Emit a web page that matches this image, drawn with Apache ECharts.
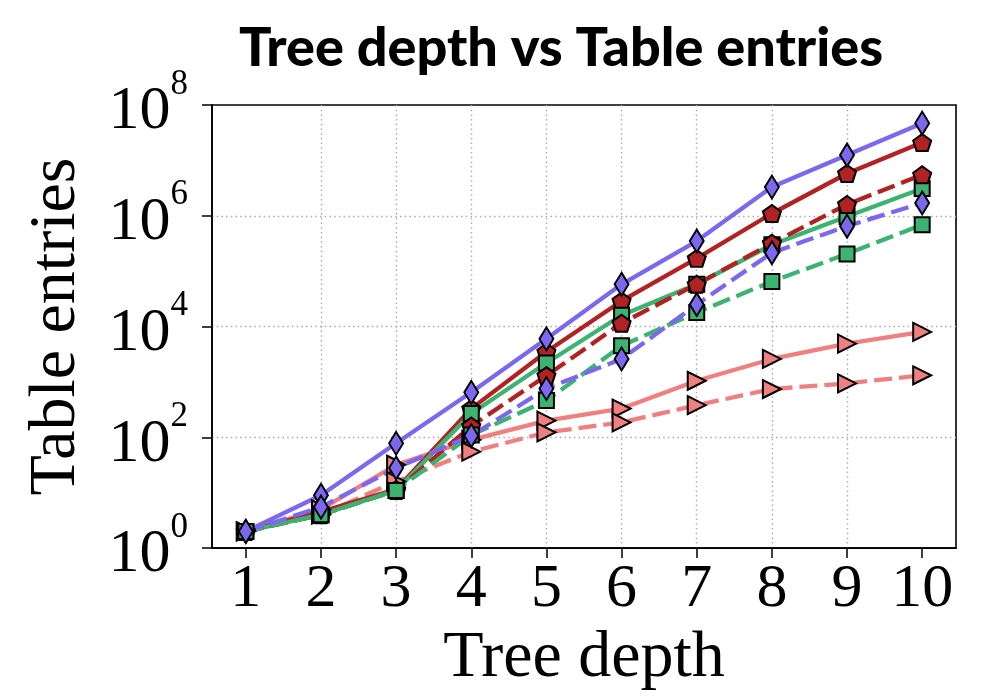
<!DOCTYPE html>
<html>
<head>
<meta charset="utf-8">
<script src="https://cdn.jsdelivr.net/npm/echarts@6/dist/echarts.min.js"></script>
<style>
html,body{margin:0;padding:0;background:#fff;}
#chart{width:982px;height:697px;}
</style>
</head>
<body>
<div id="chart"></div>
<script>
// ---- data ----
const depths = [1, 2, 3, 4, 5, 6, 7, 8, 9, 10];
const yTicks = [1, 100, 10000, 1000000, 100000000];
const purpleSolid  = [2, 9, 78, 650, 6000, 58000, 350000, 3300000, 12500000, 47000000];
const redSolid     = [2, 4.5, 11.5, 330, 3500, 29000, 170000, 1100000, 5800000, 21000000];
const greenSolid   = [2, 4, 11, 270, 2200, 16000, 58000, 300000, 970000, 3100000];
const redDashed    = [2, 4, 11, 160, 1300, 11500, 58000, 320000, 1600000, 5500000];
const greenDashed  = [2, 4, 11, 110, 460, 4500, 18000, 65000, 205000, 690000];
const purpleDashed = [2, 5.5, 28, 107, 760, 2600, 25000, 215000, 650000, 1700000];
const coralSolid   = [2, 5, 32, 90, 200, 330, 1050, 2600, 4900, 8000];
const coralDashed  = [2, 4, 16, 55, 123, 186, 380, 745, 940, 1320];

// ---- styles ----
const PURPLE = '#7B68EE', RED = '#B22222', GREEN = '#3CB371', CORAL = '#F08080';
const DASH = [18, 7];
const LW = 4.3;
const pentagon = 'path://M0,-1 L0.951,-0.309 L0.588,0.809 L-0.588,0.809 L-0.951,-0.309 Z';
const markers = {
  diamond: {symbol: 'diamond', symbolSize: [14, 23], symbolRotate: 0},
  pentagon: {symbol: pentagon, symbolSize: [18, 17], symbolRotate: 0},
  square: {symbol: 'rect', symbolSize: [15, 15], symbolRotate: 0},
  tri: {symbol: 'triangle', symbolSize: [18, 18], symbolRotate: -90}
};
function mk(values, color, dashed, mark) {
  const m = markers[mark];
  return {
    type: 'line',
    data: depths.map((d, i) => [d, values[i]]),
    symbol: m.symbol, symbolSize: m.symbolSize, symbolRotate: m.symbolRotate,
    showSymbol: true,
    lineStyle: {color: color, width: LW, type: dashed ? DASH : 'solid'},
    itemStyle: {color: color, borderColor: '#000', borderWidth: 2},
    emphasis: {disabled: true}
  };
}

const serif = 'Liberation Serif';
const titleText = 'Tree depth vs Table entries';
const cv = document.createElement('canvas').getContext('2d');
cv.font = '900 100px Lato';
const titleSize = Math.round(100 * 648 / cv.measureText(titleText).width);

const gridLine = {show: true, showMinLine: false, showMaxLine: false,
  lineStyle: {color: '#aaaaaa', width: 1.4, type: [1.5, 3.2]}};

const chart = echarts.init(document.getElementById('chart'), null, {renderer: 'canvas'});
chart.setOption({
  animation: false,
  backgroundColor: '#fff',
  title: {
    text: titleText,
    left: 556, top: 44 - titleSize / 2, textAlign: 'center',
    textStyle: {fontFamily: 'Lato', fontWeight: 900, fontSize: titleSize, lineHeight: titleSize, color: '#000'}
  },
  grid: {left: 212, right: 26, top: 105, bottom: 148, show: true, borderColor: '#000', borderWidth: 1.6, backgroundColor: 'transparent'},
  xAxis: {
    type: 'value', min: 0.55, max: 10.45,
    name: 'Tree depth', nameLocation: 'middle', nameGap: 72,
    nameTextStyle: {fontFamily: serif, fontSize: 66, lineHeight: 66, color: '#000'},
    axisLine: {show: true, lineStyle: {color: '#000', width: 1.6}},
    axisTick: {show: true, inside: false, length: 10, lineStyle: {color: '#000', width: 1.5}, customValues: depths},
    axisLabel: {show: true, margin: 11, fontFamily: serif, fontSize: 62, lineHeight: 62, color: '#000', customValues: depths,
      formatter: v => String(v)},
    splitLine: gridLine,
    minorTick: {show: false}
  },
  yAxis: {
    type: 'log', logBase: 10, min: 1, max: 100000000,
    name: 'Table entries', nameLocation: 'middle', nameGap: 122, nameRotate: 90,
    nameTextStyle: {fontFamily: serif, fontSize: 66, lineHeight: 66, color: '#000'},
    axisLine: {show: true, lineStyle: {color: '#000', width: 1.6}},
    axisTick: {show: true, inside: false, length: 10, lineStyle: {color: '#000', width: 1.5}, customValues: yTicks},
    axisLabel: {
      show: true, margin: 24, customValues: yTicks,
      formatter: v => '{b|10}{s|' + Math.round(Math.log10(v)) + '}',
      rich: {
        b: {fontFamily: serif, fontSize: 62, lineHeight: 76, color: '#000', verticalAlign: 'bottom'},
        s: {fontFamily: serif, fontSize: 35, lineHeight: 40, color: '#000', verticalAlign: 'top'}
      }
    },
    splitLine: gridLine,
    minorTick: {show: false}
  },
  series: [
    mk(coralSolid, CORAL, false, 'tri'),
    mk(coralDashed, CORAL, true, 'tri'),
    mk(redSolid, RED, false, 'pentagon'),
    mk(greenSolid, GREEN, false, 'square'),
    mk(purpleSolid, PURPLE, false, 'diamond'),
    mk(redDashed, RED, true, 'pentagon'),
    mk(greenDashed, GREEN, true, 'square'),
    mk(purpleDashed, PURPLE, true, 'diamond')
  ]
});
</script>
</body>
</html>
